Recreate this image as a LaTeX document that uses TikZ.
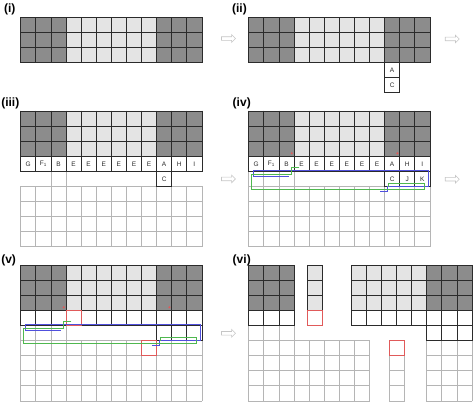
\documentclass[tikz,border=0pt]{standalone}
\usepackage{fontspec}
\setmainfont{Liberation Sans}
\usetikzlibrary{shapes.arrows}

\definecolor{cellDark}{HTML}{8C8C8C}
\definecolor{cellLight}{HTML}{E4E4E4}
\definecolor{lineDark}{HTML}{2B2B2B}
\definecolor{lineSoft}{HTML}{B5B5B5}
\definecolor{markRed}{HTML}{E05A5A}
\definecolor{pathBlue}{HTML}{5050DD}
\definecolor{pathGreen}{HTML}{4FB84F}

\tikzset{
  bold grid/.style={draw=lineDark, line width=0.7pt, line cap=rect},
  soft grid/.style={draw=lineSoft, line width=0.8pt, line cap=rect},
  red cell/.style={draw=markRed, line width=1pt},
  blue path/.style={draw=pathBlue, line width=0.9pt},
  green path/.style={draw=pathGreen, line width=0.8pt},
  cell text/.style={font=\fontsize{6.5}{7}\selectfont, text=lineDark, inner sep=0pt},
  panel label/.style={font=\fontsize{12}{12}\selectfont\bfseries, anchor=north west, inner sep=0pt},
  next arrow/.style={single arrow, draw=gray!45, fill=white, line width=0.6pt,
    minimum height=14pt, minimum width=7pt, single arrow head extend=2pt, inner sep=1.5pt}
}

% Сетка из клеток
\newcommand{\cellgrid}[5]{%
  \foreach \gx in {#2,...,#4} {\draw[#1] (\gx,#3) -- (\gx,#5);}
  \foreach \gy in {#3,...,#5} {\draw[#1] (#2,\gy) -- (#4,\gy);}
}

% Верхние три ряда
\newcommand{\upperblock}{%
  \fill[cellDark] (0,0) rectangle (3,3);
  \fill[cellLight] (3,0) rectangle (9,3);
  \fill[cellDark] (9,0) rectangle (12,3);
  \cellgrid{bold grid}{0}{0}{12}{3}
}

% Ряд с буквами
\newcommand{\letterrow}[1]{%
  \foreach \lab [count=\k from 0] in {G,F\textsubscript{1},B,E,E,E,E,E,E,A,H,I}
    \node[cell text] (#1-\k) at (\k+0.5,3.5) {\lab};
}

% Цветные контуры
\newcommand{\interfacepaths}{%
  \fill[markRed] (2.85,2.8) circle (0.08);
  \fill[markRed] (9.85,2.8) circle (0.08);
  \draw[blue path] (0.3,3.93) -- (11.93,3.93) -- (11.93,4.97) -- (9.18,4.97) -- (9.18,5.35) -- (8.68,5.35);
  \draw[blue path] (0.3,3.93) -- (0.3,4.32) -- (2.7,4.32);
  \draw[green path] (3.35,3.72) -- (2.8,3.72) -- (2.8,4.18) -- (0.15,4.18) -- (0.15,5.2)
    -- (11.63,5.2) -- (11.63,4.8) -- (9.25,4.8) -- (9.25,5.05);
}

\begin{document}
\begin{tikzpicture}[x=15.1pt, y=-15.1pt]
  \useasboundingbox (0,0) rectangle (31.39,26.69);

  % Подписи панелей
  \node[panel label] (lab-i) at (0.26,0.22) {(i)};
  \node[panel label] (lab-ii) at (15.36,0.22) {(ii)};
  \node[panel label] (lab-iii) at (0.07,6.45) {(iii)};
  \node[panel label] (lab-iv) at (15.4,6.45) {(iv)};
  \node[panel label] (lab-v) at (0.07,16.85) {(v)};
  \node[panel label] (lab-vi) at (15.4,16.85) {(vi)};

  % Стрелки между панелями
  \node[next arrow] (go-i) at (15.07,2.55) {};
  \node[next arrow] (go-ii) at (29.89,2.58) {};
  \node[next arrow] (go-iii) at (15.07,11.85) {};
  \node[next arrow] (go-iv) at (29.89,11.87) {};
  \node[next arrow] (go-v) at (15.07,22.07) {};

  % Панель (i)
  \begin{scope}[shift={(1.371,1.146)}]
    \upperblock
  \end{scope}

  % Панель (ii)
  \begin{scope}[shift={(16.47,1.146)}]
    \upperblock
    \cellgrid{bold grid}{9}{3}{10}{5}
    \node[cell text] (ii-a) at (9.5,3.5) {A};
    \node[cell text] (ii-c) at (9.5,4.5) {C};
  \end{scope}

  % Панель (iii)
  \begin{scope}[shift={(1.371,7.35)}]
    \cellgrid{soft grid}{0}{5}{12}{9}
    \draw[soft grid] (2,4) -- (2,5) (3,4) -- (3,5);
    \upperblock
    \cellgrid{bold grid}{0}{3}{12}{4}
    \cellgrid{bold grid}{9}{4}{10}{5}
    \letterrow{iii}
    \node[cell text] (iii-c) at (9.5,4.5) {C};
  \end{scope}

  % Панель (iv)
  \begin{scope}[shift={(16.47,7.35)}]
    \cellgrid{soft grid}{0}{5}{12}{9}
    \cellgrid{soft grid}{0}{4}{3}{5}
    \upperblock
    \cellgrid{bold grid}{0}{3}{12}{4}
    \cellgrid{bold grid}{9}{4}{12}{5}
    \letterrow{iv}
    \node[cell text] (iv-c) at (9.5,4.5) {C};
    \node[cell text] (iv-j) at (10.5,4.5) {J};
    \node[cell text] (iv-k) at (11.5,4.5) {K};
    \interfacepaths
  \end{scope}

  % Панель (v)
  \begin{scope}[shift={(1.371,17.55)}]
    \cellgrid{soft grid}{0}{5}{12}{9}
    \cellgrid{soft grid}{0}{4}{3}{5}
    \upperblock
    \cellgrid{bold grid}{0}{3}{12}{4}
    \cellgrid{bold grid}{9}{4}{12}{5}
    \draw[red cell] (3,3) rectangle (4,4);
    \draw[red cell] (8,5) rectangle (9,6);
    \interfacepaths
  \end{scope}

  % Панель (vi)
  \begin{scope}[shift={(16.47,17.55)}]
    % левый блок
    \cellgrid{soft grid}{0}{4}{3}{9}
    \cellgrid{soft grid}{0}{5}{8}{9}
    \fill[cellDark] (0,0) rectangle (3,3);
    \cellgrid{bold grid}{0}{0}{3}{4}
    % средний столбец
    \begin{scope}[shift={(3.91,0)}]
      \fill[cellLight] (0,0) rectangle (1,3);
      \cellgrid{bold grid}{0}{0}{1}{3}
      \draw[red cell] (0,3) rectangle (1,4);
    \end{scope}
    % правый блок
    \begin{scope}[shift={(6.79,0)}]
      \cellgrid{soft grid}{5}{5}{8}{9}
      \fill[cellLight] (0,0) rectangle (5,3);
      \fill[cellDark] (5,0) rectangle (8,3);
      \cellgrid{bold grid}{0}{0}{8}{4}
      \cellgrid{bold grid}{5}{4}{8}{5}
    \end{scope}
    % нижний столбец
    \begin{scope}[shift={(9.34,0)}]
      \cellgrid{soft grid}{0}{6}{1}{9}
      \draw[red cell] (0,5) rectangle (1,6);
    \end{scope}
  \end{scope}
\end{tikzpicture}
\end{document}
